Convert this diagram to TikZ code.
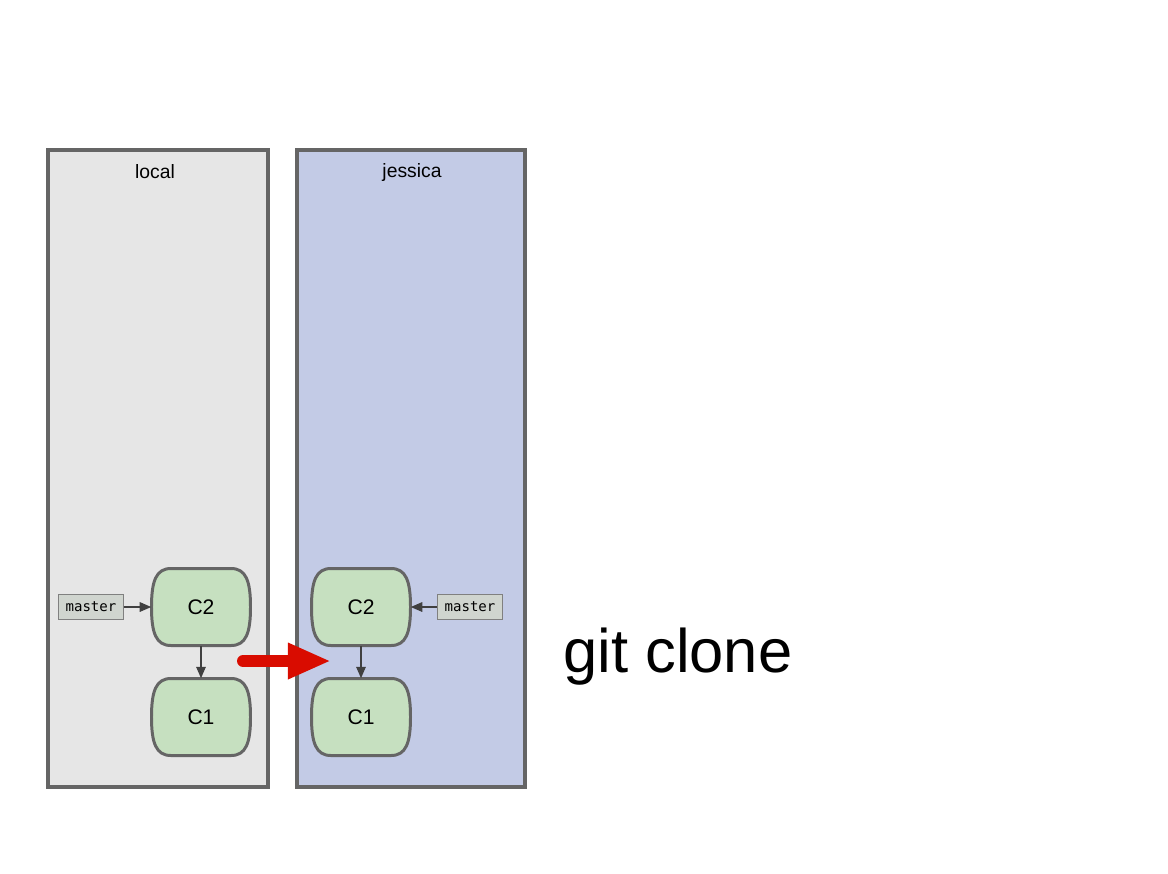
\documentclass[tikz,border=0pt]{standalone}
\usepackage{fontspec}
\setmainfont{Liberation Sans}
\newfontfamily\branchfont{DejaVu Sans Mono}
\usetikzlibrary{arrows.meta}

\definecolor{boxline}{HTML}{656565}
\definecolor{localfill}{HTML}{E6E6E6}
\definecolor{jessfill}{HTML}{C3CBE6}
\definecolor{commitfill}{HTML}{C6E0C0}
\definecolor{branchfill}{HTML}{D0D5CF}
\definecolor{linkgray}{HTML}{404040}
\definecolor{clonered}{HTML}{D90C00}

% commit: name, position, label
\newcommand{\commitnode}[3]{
    \begin{scope}[shift={(#2)}]
        \filldraw[draw=boxline, fill=commitfill, line width=1.7pt]
            (-30,-38.5) -- (30,-38.5)
            .. controls (45,-38.5) and (49.5,-26) .. (49.5,0)
            .. controls (49.5,26) and (45,38.5) .. (30,38.5)
            -- (-30,38.5)
            .. controls (-45,38.5) and (-49.5,26) .. (-49.5,0)
            .. controls (-49.5,-26) and (-45,-38.5) .. (-30,-38.5) -- cycle;
        \node[commit] (#1) at (0,0) {#3};
    \end{scope}
}

\begin{document}
\begin{tikzpicture}[x=0.02cm, y=-0.02cm,
    repo/.style={draw=boxline, line width=2.3pt},
    commit/.style={minimum width=1.98cm, minimum height=1.54cm, inner sep=0pt,
        font=\fontsize{12}{14}\selectfont},
    branch/.style={draw=gray, fill=branchfill, line width=0.5pt, inner sep=0pt,
        minimum width=1.3cm, minimum height=0.5cm, font=\branchfont\fontsize{8}{9}\selectfont},
    link/.style={draw=linkgray, line width=0.6pt, -{Triangle[length=6.5pt,width=5.5pt]}}]
    \useasboundingbox (0,0) rectangle (1168,873);

    % repositories
    \draw[repo, fill=localfill] (48,150) rectangle (268,787);
    \draw[repo, fill=jessfill] (297,150) rectangle (525,787);
    \node[font=\fontsize{11}{13}\selectfont] (locallabel) at (155,172) {local};
    \node[font=\fontsize{11}{13}\selectfont] (jesslabel) at (412,172) {jessica};

    % local history
    \commitnode{lc2}{201,607}{C2}
    \commitnode{lc1}{201,717}{C1}
    \node[branch] (lmaster) at (91,607) {master};
    \draw[link] (lc2) -- (lc1);
    \draw[link] (lmaster) -- (lc2);

    % cloned history
    \commitnode{jc2}{361,607}{C2}
    \commitnode{jc1}{361,717}{C1}
    \node[branch] (jmaster) at (470,607) {master};
    \draw[link] (jc2) -- (jc1);
    \draw[link] (jmaster) -- (jc2);

    % clone
    \coordinate (clonefrom) at (243,661);
    \coordinate (cloneto) at (331,661);
    \draw[clonered, line width=6.8pt, line cap=round,
        -{Triangle[length=24.5pt,width=19pt]}] (clonefrom) -- (cloneto);
    \node[anchor=west, inner sep=0pt, font=\fontsize{35}{40}\selectfont] (clonelabel) at (563,657) {git clone};
\end{tikzpicture}
\end{document}
